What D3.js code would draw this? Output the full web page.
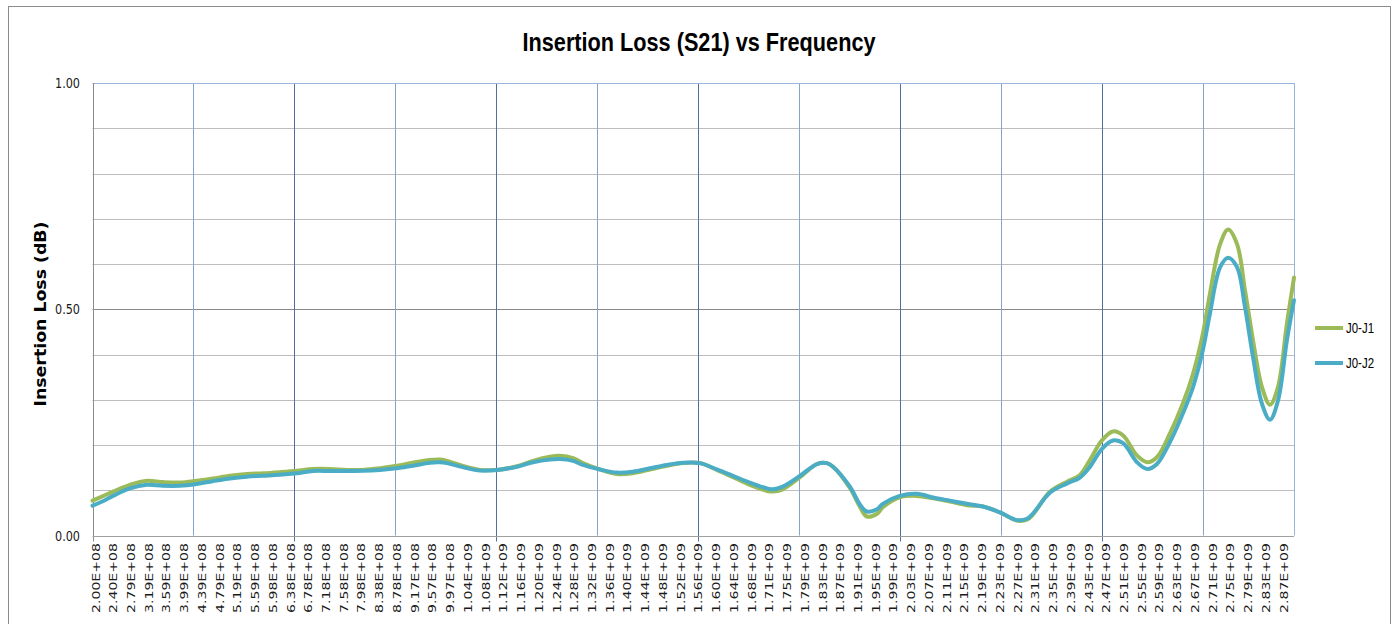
<!DOCTYPE html>
<html lang="en">
<head>
    <meta charset="UTF-8">
    <title>Insertion Loss (S21) vs Frequency</title>
    <script src="https://d3js.org/d3.v7.min.js"></script>
    <style>
        body {
            margin: 0;
            padding: 0;
            background-color: #fff;
        }
        svg {
            display: block;
        }
        .tick-label {
            font-family: 'DejaVu Sans', Verdana, sans-serif;
            fill: #1a1a1a;
        }
    </style>
</head>
<body>
    <script>
        // frequency in GHz
        const freqGHz = [0.200, 0.228, 0.246, 0.284, 0.322, 0.358, 0.396, 0.434, 0.470, 0.509,
            0.547, 0.583, 0.621, 0.659, 0.695, 0.733, 0.772, 0.808, 0.846, 0.884,
            0.920, 0.958, 0.981, 0.996, 1.032, 1.071, 1.109, 1.154, 1.190, 1.228,
            1.250, 1.280, 1.302, 1.340, 1.378, 1.414, 1.453, 1.491, 1.527, 1.565,
            1.603, 1.639, 1.677, 1.716, 1.729, 1.751, 1.790, 1.828, 1.850, 1.864,
            1.902, 1.925, 1.940, 1.963, 1.976, 2.014, 2.053, 2.089, 2.127, 2.165,
            2.201, 2.239, 2.277, 2.300, 2.313, 2.352, 2.390, 2.419, 2.441, 2.468,
            2.493, 2.516, 2.547, 2.570, 2.592, 2.621, 2.650, 2.673, 2.695, 2.711,
            2.734, 2.752, 2.772, 2.790, 2.808, 2.828, 2.846, 2.864, 2.884, 2.900];

        const lossJ1 = [0.077, 0.089, 0.097, 0.112, 0.121, 0.118, 0.117, 0.121, 0.126, 0.132,
            0.136, 0.1375, 0.140, 0.143, 0.147, 0.147, 0.145, 0.145, 0.1485, 0.154,
            0.161, 0.167, 0.168, 0.165, 0.154, 0.145, 0.145, 0.153, 0.165, 0.174,
            0.176, 0.171, 0.160, 0.146, 0.136, 0.1375, 0.146, 0.154, 0.160, 0.160,
            0.145, 0.129, 0.112, 0.0985, 0.097, 0.102, 0.129, 0.158, 0.160, 0.152,
            0.105, 0.0625, 0.042, 0.048, 0.0625, 0.0845, 0.0875, 0.082, 0.075, 0.067,
            0.064, 0.051, 0.033, 0.035, 0.046, 0.097, 0.119, 0.134, 0.166, 0.210,
            0.230, 0.221, 0.177, 0.162, 0.173, 0.225, 0.291, 0.357, 0.445, 0.534,
            0.644, 0.676, 0.644, 0.541, 0.431, 0.328, 0.289, 0.328, 0.468, 0.570];

        const lossJ2 = [0.066, 0.078, 0.0875, 0.104, 0.112, 0.110, 0.110, 0.114, 0.120, 0.126,
            0.130, 0.132, 0.134, 0.1375, 0.1426, 0.1426, 0.1426, 0.143, 0.145, 0.1485,
            0.154, 0.161, 0.162, 0.160, 0.151, 0.1434, 0.145, 0.152, 0.162, 0.168,
            0.169, 0.165, 0.156, 0.146, 0.139, 0.141, 0.1485, 0.156, 0.161, 0.160,
            0.146, 0.132, 0.117, 0.104, 0.102, 0.108, 0.132, 0.158, 0.160, 0.152,
            0.108, 0.068, 0.053, 0.058, 0.070, 0.0875, 0.092, 0.084, 0.077, 0.070,
            0.064, 0.051, 0.034, 0.037, 0.048, 0.095, 0.115, 0.128, 0.151, 0.191,
            0.210, 0.204, 0.162, 0.147, 0.158, 0.206, 0.269, 0.328, 0.409, 0.490,
            0.593, 0.614, 0.593, 0.504, 0.394, 0.291, 0.256, 0.298, 0.431, 0.520];

        const seriesNames = ["J0-J1", "J0-J2"];
        const seriesColors = ["#9BBB59", "#4BACC6"];

        const xLabels = ["2.00E+08", "2.40E+08", "2.79E+08", "3.19E+08", "3.59E+08", "3.99E+08",
            "4.39E+08", "4.79E+08", "5.19E+08", "5.59E+08", "5.98E+08", "6.38E+08", "6.78E+08",
            "7.18E+08", "7.58E+08", "7.98E+08", "8.38E+08", "8.78E+08", "9.17E+08", "9.57E+08",
            "9.97E+08", "1.04E+09", "1.08E+09", "1.12E+09", "1.16E+09", "1.20E+09", "1.24E+09",
            "1.28E+09", "1.32E+09", "1.36E+09", "1.40E+09", "1.44E+09", "1.48E+09", "1.52E+09",
            "1.56E+09", "1.60E+09", "1.64E+09", "1.68E+09", "1.71E+09", "1.75E+09", "1.79E+09",
            "1.83E+09", "1.87E+09", "1.91E+09", "1.95E+09", "1.99E+09", "2.03E+09", "2.07E+09",
            "2.11E+09", "2.15E+09", "2.19E+09", "2.23E+09", "2.27E+09", "2.31E+09", "2.35E+09",
            "2.39E+09", "2.43E+09", "2.47E+09", "2.51E+09", "2.55E+09", "2.59E+09", "2.63E+09",
            "2.67E+09", "2.71E+09", "2.75E+09", "2.79E+09", "2.83E+09", "2.87E+09"];
        const labelStartGHz = 0.2;
        const labelStepGHz = 0.03985;
        const gridStepGHz = 0.2268;

        const yTicks = [0, 0.5, 1];
        const yGrid = [0.1, 0.2, 0.3, 0.4, 0.5, 0.6, 0.7, 0.8, 0.9];

        const width = 1395, height = 624;
        const plot = { left: 92.5, right: 1294, top: 83, bottom: 535.5 };

        const svg = d3.select("body").append("svg")
            .attr("width", width)
            .attr("height", height);

        const x = d3.scaleLinear().domain([0.2, 2.9]).range([plot.left, plot.right]);
        const y = d3.scaleLinear().domain([0, 1]).range([plot.bottom, plot.top]);
        const crisp = v => Math.round(v) + 0.5;

        // chart frame
        svg.append("rect")
            .attr("x", 8.5).attr("y", 6.5)
            .attr("width", 1382).attr("height", 700)
            .attr("fill", "none")
            .attr("stroke", "#8c8c8c");

        // title
        svg.append("text")
            .attr("x", 699).attr("y", 51)
            .attr("text-anchor", "middle")
            .attr("textLength", 353)
            .attr("lengthAdjust", "spacingAndGlyphs")
            .style("font-family", "'Liberation Sans Narrow', 'Liberation Sans', sans-serif")
            .style("font-weight", "bold")
            .style("font-size", "26px")
            .text("Insertion Loss (S21) vs Frequency");

        // horizontal gridlines
        svg.selectAll(".hgrid")
            .data(yGrid)
            .enter()
            .append("line")
            .attr("class", "hgrid")
            .attr("x1", plot.left).attr("x2", plot.right)
            .attr("y1", d => crisp(y(d))).attr("y2", d => crisp(y(d)))
            .attr("stroke", d => d === 0.5 ? "#8a8a8a" : "#bdbdbd")
            .attr("stroke-width", 1);

        // vertical gridlines
        const gridFreqs = d3.range(1, 12).map(k => labelStartGHz + k * gridStepGHz);
        svg.selectAll(".vgrid")
            .data(gridFreqs)
            .enter()
            .append("line")
            .attr("class", "vgrid")
            .attr("x1", d => crisp(x(d))).attr("x2", d => crisp(x(d)))
            .attr("y1", plot.top)
            .attr("y2", (d, i) => i % 2 === 1 ? plot.bottom + 6 : plot.bottom)
            .attr("stroke", (d, i) => i % 2 === 1 ? "#4f6f9f" : "#86a3cd")
            .attr("stroke-width", 1);

        // plot border top / right
        svg.append("line")
            .attr("x1", plot.left).attr("x2", plot.right)
            .attr("y1", crisp(plot.top)).attr("y2", crisp(plot.top))
            .attr("stroke", "#9ab4d8");
        svg.append("line")
            .attr("x1", crisp(plot.right)).attr("x2", crisp(plot.right))
            .attr("y1", plot.top).attr("y2", plot.bottom)
            .attr("stroke", "#9ab4d8");

        // axes lines
        svg.append("line")
            .attr("x1", crisp(plot.left)).attr("x2", crisp(plot.left))
            .attr("y1", plot.top).attr("y2", plot.bottom + 6)
            .attr("stroke", "#8c8c8c");
        svg.append("line")
            .attr("x1", plot.left).attr("x2", plot.right)
            .attr("y1", crisp(plot.bottom)).attr("y2", crisp(plot.bottom))
            .attr("stroke", "#a0a0a0");

        // y tick labels
        svg.selectAll(".ylabel")
            .data(yTicks)
            .enter()
            .append("text")
            .attr("class", "tick-label")
            .attr("x", 80)
            .attr("y", d => y(d))
            .attr("dy", "0.36em")
            .attr("text-anchor", "end")
            .attr("textLength", 25)
            .attr("lengthAdjust", "spacingAndGlyphs")
            .style("font-size", "14px")
            .text(d => d3.format(".2f")(d));

        // y axis title
        svg.append("text")
            .attr("transform", "translate(46,314) rotate(-90)")
            .attr("text-anchor", "middle")
            .attr("textLength", 185)
            .attr("lengthAdjust", "spacingAndGlyphs")
            .style("font-family", "'DejaVu Sans', Verdana, sans-serif")
            .style("font-weight", "bold")
            .style("font-size", "16px")
            .text("Insertion Loss (dB)");

        // x tick labels
        svg.selectAll(".xlabel")
            .data(xLabels)
            .enter()
            .append("text")
            .attr("class", "tick-label")
            .attr("transform", (d, i) => `translate(${x(labelStartGHz + i * labelStepGHz) + 7},543) rotate(-90)`)
            .attr("text-anchor", "end")
            .attr("textLength", 70)
            .attr("lengthAdjust", "spacingAndGlyphs")
            .style("font-size", "10px")
            .text(d => d);

        // series lines
        const series = [lossJ1, lossJ2].map((vals, i) => ({
            name: seriesNames[i],
            color: seriesColors[i],
            points: freqGHz.map((f, j) => ({ f: f, v: vals[j] }))
        }));

        const line = d3.line()
            .x(d => x(d.f))
            .y(d => y(d.v))
            .curve(d3.curveCatmullRom.alpha(0.5));

        svg.selectAll(".series")
            .data(series)
            .enter()
            .append("path")
            .attr("class", "series")
            .attr("fill", "none")
            .attr("stroke", d => d.color)
            .attr("stroke-width", 4)
            .attr("stroke-linejoin", "round")
            .attr("stroke-linecap", "round")
            .attr("d", d => line(d.points));

        // legend
        const legend = svg.selectAll(".legend")
            .data(series)
            .enter()
            .append("g")
            .attr("class", "legend")
            .attr("transform", (d, i) => `translate(1315,${328 + i * 35})`);

        legend.append("line")
            .attr("x1", 0).attr("x2", 28)
            .attr("stroke", d => d.color)
            .attr("stroke-width", 4);

        legend.append("text")
            .attr("x", 31)
            .attr("dy", "0.35em")
            .attr("textLength", 28)
            .attr("lengthAdjust", "spacingAndGlyphs")
            .style("font-family", "'Liberation Sans Narrow', 'Liberation Sans', sans-serif")
            .style("font-size", "14px")
            .text(d => d.name);
    </script>
</body>
</html>
